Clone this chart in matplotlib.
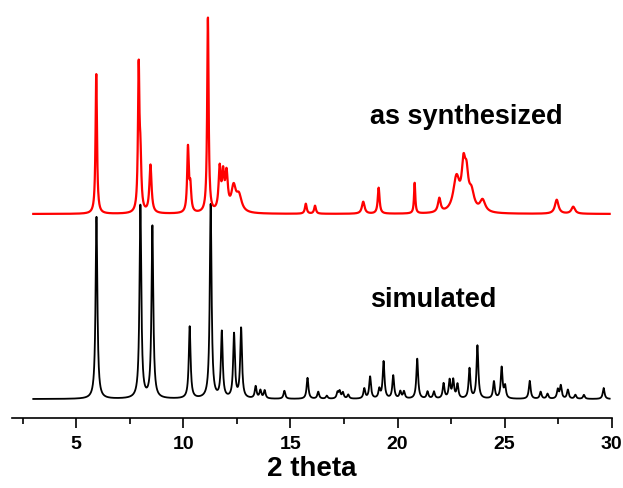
import numpy as np
import matplotlib.pyplot as plt
from matplotlib.ticker import MultipleLocator

plt.rcParams['font.family'] = ['Liberation Sans', 'DejaVu Sans']

# simulated pattern: peak positions (2 theta), heights (a.u.), widths (FWHM, deg)
sim_pos = [5.95, 8.0, 8.56, 10.3, 11.28, 11.8, 12.37, 12.7, 13.38, 13.6, 13.8,
           14.72, 15.8, 16.3, 16.7, 17.2, 17.3, 17.45, 17.7, 18.45, 18.72, 19.15,
           19.35, 19.8, 20.13, 20.3, 20.92, 21.4, 21.7, 22.15, 22.43, 22.6, 22.8,
           23.36, 23.73, 24.5, 24.86, 25.02, 26.17, 26.68, 27.0, 27.48, 27.62,
           27.95, 28.3, 28.7, 29.62]
sim_height = [182, 194, 172, 72, 194, 66, 64, 70, 12, 8, 8,
              8, 21, 7, 3, 6, 7, 6, 4, 10, 22, 9,
              37, 23, 7, 7, 40, 7, 7, 15, 18, 18, 14,
              30, 53, 17, 31, 12, 18, 7, 5, 9, 13,
              9, 4, 4, 11]
sim_width = 0.1

# as synthesized pattern
syn_pos = [5.94, 7.92, 8.0, 8.47, 10.22, 10.33, 11.15, 11.7, 11.86, 12.02, 12.35,
           12.6, 15.72, 16.15, 18.4, 19.12, 20.8, 21.95, 22.75, 23.08, 23.22,
           23.45, 23.97, 27.43, 28.2]
syn_height = [140, 140, 50, 48, 64, 25, 196, 42, 34, 36, 24,
              16, 10, 8, 12, 26, 31, 14, 34, 40, 30,
              18, 12, 14, 7]
syn_width = [0.08, 0.08, 0.1, 0.12, 0.09, 0.1, 0.08, 0.12, 0.12, 0.14, 0.25,
             0.3, 0.1, 0.1, 0.15, 0.1, 0.07, 0.15, 0.35, 0.2, 0.2,
             0.3, 0.3, 0.2, 0.2]
syn_offset = 185

two_theta = np.linspace(3.0, 29.9, 3000)


def lorentz(x, pos, h, w):
    y = np.zeros_like(x)
    if np.isscalar(w):
        w = [w] * len(pos)
    for p, a, g in zip(pos, h, w):
        y += a * (g / 2) ** 2 / ((x - p) ** 2 + (g / 2) ** 2)
    return y


sim = lorentz(two_theta, sim_pos, sim_height, sim_width)
syn = lorentz(two_theta, syn_pos, syn_height, syn_width) + syn_offset

fig = plt.figure(figsize=(6.23, 4.89), dpi=100)
ax = fig.add_axes([0.019, 0.143, 0.963, 0.847])

ax.plot(two_theta, sim, color='black', lw=1.3)
ax.plot(two_theta, syn, color='#ff0000', lw=1.6)

ax.text(18.7, 283, 'as synthesized', fontsize=19.5, fontweight='bold', va='center')
ax.text(18.7, 100, 'simulated', fontsize=19.5, fontweight='bold', va='center')

ax.set_xlim(2.0, 30.0)
ax.set_ylim(-19, 395)
ax.xaxis.set_major_locator(MultipleLocator(5))
ax.xaxis.set_minor_locator(MultipleLocator(2.5))
ax.tick_params(axis='x', which='major', direction='out', length=7, width=1.2,
               labelsize=14, pad=5)
ax.tick_params(axis='x', which='minor', direction='out', length=4, width=1.2)
for lab in ax.get_xticklabels():
    lab.set_fontweight('bold')
ax.set_yticks([])
for s in ['left', 'right', 'top']:
    ax.spines[s].set_visible(False)
ax.spines['bottom'].set_linewidth(1.2)
ax.set_xlabel('2 theta', fontsize=20, fontweight='bold', labelpad=2)

fig.savefig('out.png', dpi=100)
